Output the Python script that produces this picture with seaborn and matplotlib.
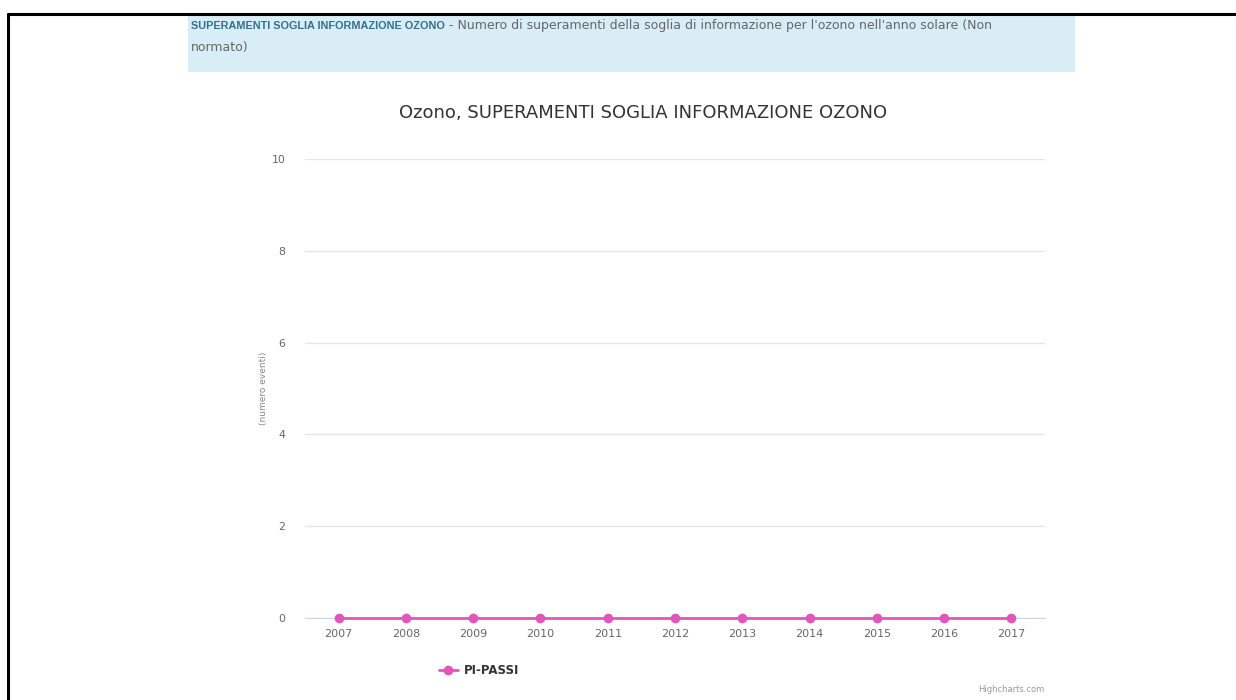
import numpy as np
import pandas as pd
import matplotlib
matplotlib.use("Agg")
import matplotlib.pyplot as plt
import seaborn as sns
from matplotlib.patches import Rectangle
from matplotlib.lines import Line2D

years = ["2007", "2008", "2009", "2010", "2011", "2012", "2013", "2014", "2015", "2016", "2017"]
superamenti = [0, 0, 0, 0, 0, 0, 0, 0, 0, 0, 0]
serie = "PI-PASSI"
y_ticks = [0, 2, 4, 6, 8, 10]

df = pd.DataFrame({"pos": np.arange(len(years)), "anno": years, "valore": superamenti})

sns.set_style("white")
plt.rcParams["font.family"] = ["DejaVu Sans"]

pink = "#e256bb"
W, H = 1236, 700
fig = plt.figure(figsize=(12.36, 7.0), dpi=100)

def fx(px):
    return px / W

def fy(py):
    return 1 - py / H

# page frame lines
fig.add_artist(Line2D([fx(8), fx(8)], [0, fy(14)], color="black", lw=2.2))
fig.add_artist(Line2D([fx(8), 1], [fy(14), fy(14)], color="black", lw=2.2))

# info banner
fig.patches.append(Rectangle((fx(188), fy(72)), fx(1075 - 188), (72 - 15) / H,
                             transform=fig.transFigure, facecolor="#d9edf7",
                             edgecolor="none", zorder=0))
t1 = fig.text(fx(191), fy(26), "SUPERAMENTI SOGLIA INFORMAZIONE OZONO", fontsize=7.8,
              fontweight="bold", color="#31708f", family="Liberation Sans", va="center")
fig.canvas.draw()
bb = t1.get_window_extent()
fig.text(bb.x1 / W + 0.003, fy(26),
         "- Numero di superamenti della soglia di informazione per l'ozono nell'anno solare (Non",
         fontsize=9.0, color="#666666", family="DejaVu Sans", va="center")
fig.text(fx(191), fy(48), "normato)", fontsize=9.0, color="#666666",
         family="DejaVu Sans", va="center")

ax = fig.add_axes([fx(305), fy(618), fx(1045 - 305), (618 - 159) / H])
sns.lineplot(data=df, x="pos", y="valore", ax=ax, color=pink, lw=2, marker="o",
             markersize=7, markeredgewidth=0, label=serie, clip_on=False, zorder=5)

ax.set_xlim(-0.5, len(years) - 0.5)
ax.set_ylim(0, 10)
ax.set_yticks(y_ticks)
ax.set_yticklabels([str(v) for v in y_ticks], color="#666666", fontsize=7.8)
ax.set_xticks(df["pos"])
ax.set_xticklabels(years, color="#666666", fontsize=8)
ax.set_xticks(np.arange(-0.5, len(years), 1), minor=True)
ax.tick_params(axis="x", which="major", length=0, pad=8)
ax.tick_params(axis="x", which="minor", length=10, color="#ccd6eb", width=1, direction="out")
ax.tick_params(axis="y", length=0, pad=14)
ax.grid(axis="y", color="#e6e6e6", lw=1)
ax.set_axisbelow(True)
for s in ["top", "right", "left"]:
    ax.spines[s].set_visible(False)
ax.spines["bottom"].set_color("#ccd6eb")
ax.set_xlabel("")
ax.set_ylabel("(numero eventi)", fontsize=6.5, color="#888888", labelpad=3)

ax.legend(loc="upper left", bbox_to_anchor=((428 - 305) / (1045 - 305), -0.077),
          frameon=False, handlelength=1.6, handletextpad=0.5,
          prop={"weight": "bold", "size": 8.5})
leg = ax.get_legend()
for t in leg.get_texts():
    t.set_color("#333333")

fig.text(fx(643), fy(113), "Ozono, SUPERAMENTI SOGLIA INFORMAZIONE OZONO",
         ha="center", va="center", fontsize=13, color="#333333")
fig.text(fx(1044), fy(689), "Highcharts.com", ha="right", va="center", fontsize=6,
         color="#999999")

fig.savefig("out.png", dpi=100)
